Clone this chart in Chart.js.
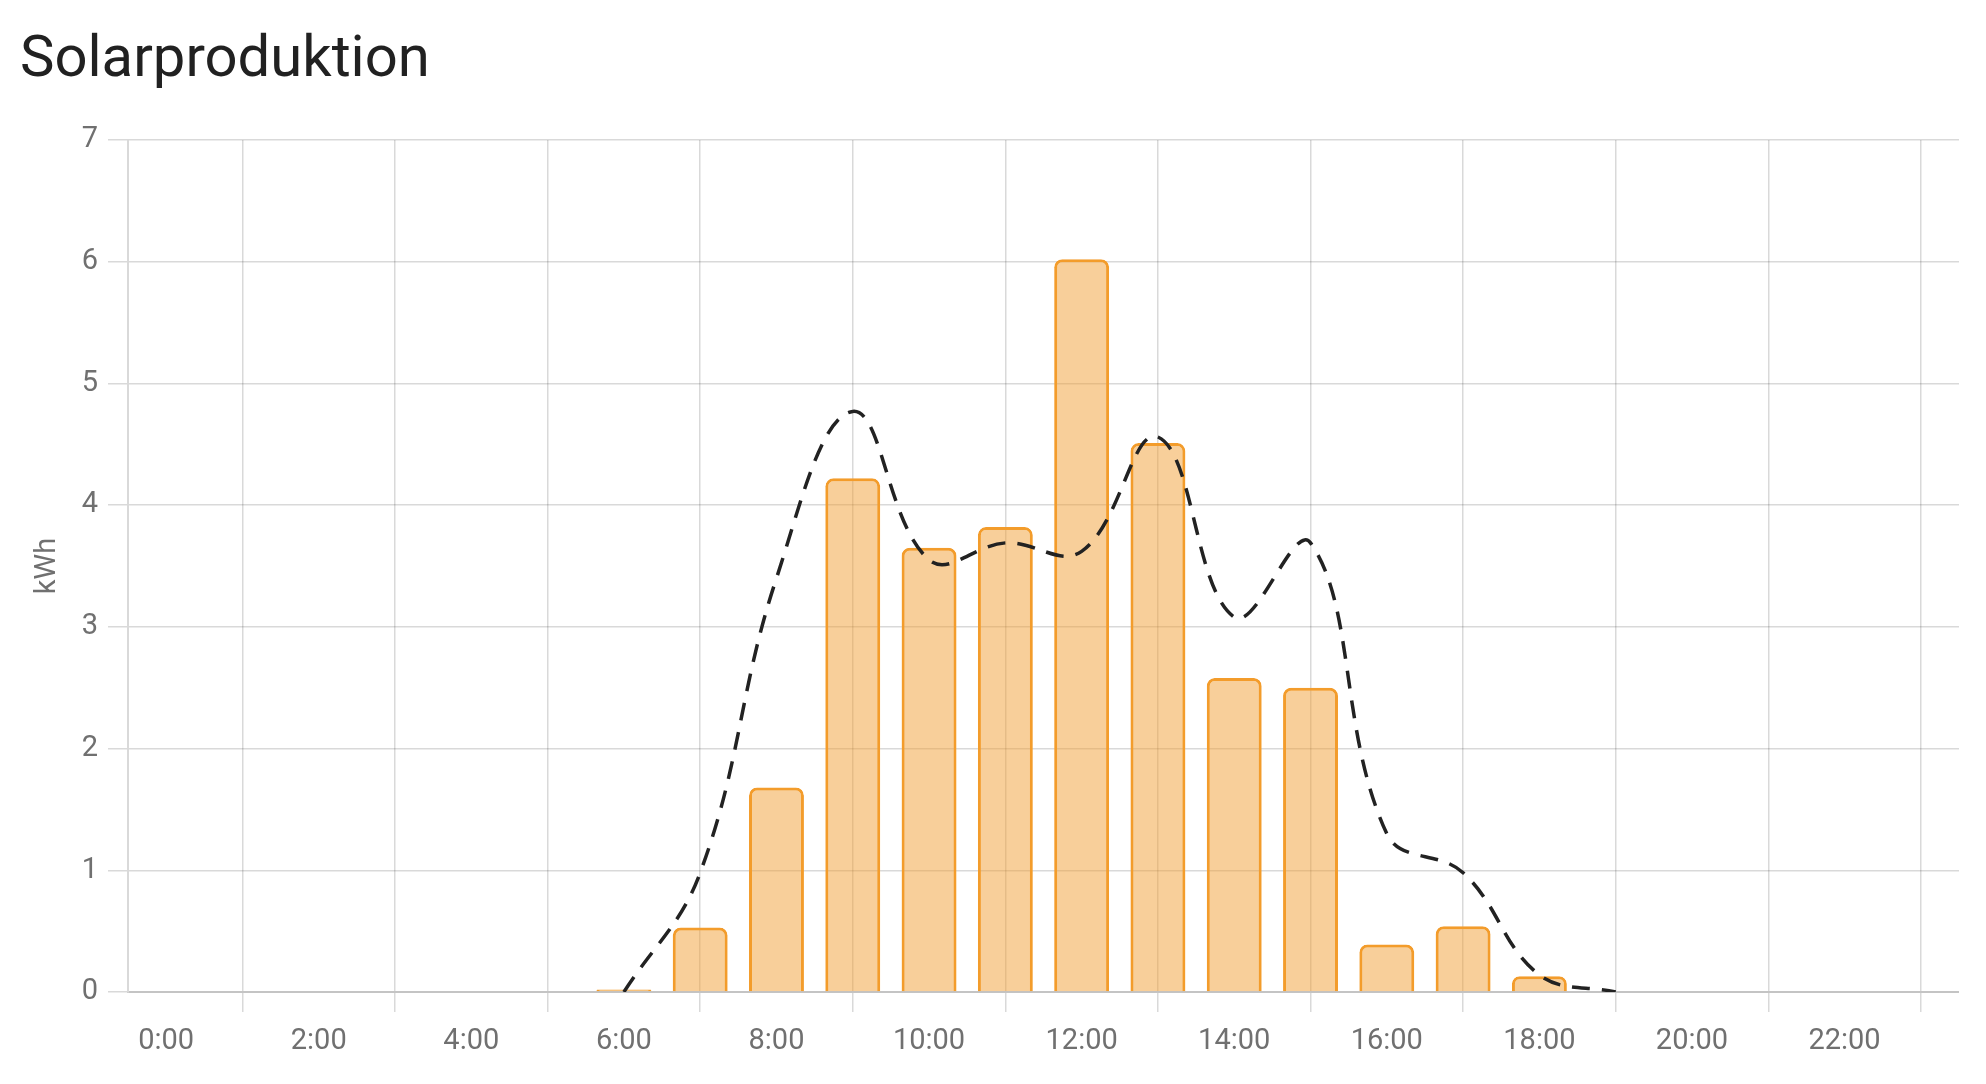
<!DOCTYPE html>
<html>
<head>
<meta charset="utf-8">
<script src="https://cdn.jsdelivr.net/npm/chart.js@4/dist/chart.umd.min.js"></script>
<style>
  html, body { margin: 0; padding: 0; background: #ffffff; }
  body { width: 1986px; height: 1084px; position: relative; overflow: hidden; font-family: Roboto, "Noto Sans", sans-serif; }
  #title { position: absolute; left: 20px; top: 27px; font-size: 58px; line-height: 58px; color: #212121; font-weight: 400; white-space: nowrap; }
  #wrap { position: absolute; left: 0; top: 100px; width: 1959px; height: 984px; }
</style>
</head>
<body>
<div id="title">Solarproduktion</div>
<div id="wrap"><canvas id="c"></canvas></div>
<script>
// ---- data ----
const hours = ["0:00","1:00","2:00","3:00","4:00","5:00","6:00","7:00","8:00","9:00","10:00","11:00",
               "12:00","13:00","14:00","15:00","16:00","17:00","18:00","19:00","20:00","21:00","22:00","23:00"];
const production = [null,null,null,null,null,null,0.02,0.53,1.68,4.22,3.65,3.82,
                    6.02,4.51,2.58,2.50,0.39,0.54,0.13,null,null,null,null,null];
const forecast = [null,null,null,null,null,null,0,0.98,3.4,4.77,3.55,3.69,
                  3.62,4.56,3.08,3.69,1.3,0.98,0.14,0,null,null,null,null];
const yTicks = [0,1,2,3,4,5,6,7];
const yTitle = "kWh";

const gridColor = "rgba(0,0,0,0.15)";
const tickColor = "#707070";
const font = { family: "Roboto", size: 29 };

new Chart(document.getElementById("c"), {
  data: {
    labels: hours,
    datasets: [
      {
        type: "line",
        data: forecast,
        borderColor: "#222222",
        borderWidth: 3.5,
        borderDash: [18, 12],
        pointRadius: 0,
        tension: 0.4,
        fill: false,
        order: 0
      },
      {
        type: "bar",
        data: production,
        backgroundColor: "rgba(242,160,53,0.5)",
        borderColor: "#f39c2b",
        borderWidth: 3,
        borderRadius: 8,
        borderSkipped: "start",
        order: 1
      }
    ]
  },
  options: {
    responsive: true,
    maintainAspectRatio: false,
    animation: false,
    events: [],
    layout: { padding: { top: 40, right: 0, bottom: 0, left: 0 } },
    plugins: { legend: { display: false }, tooltip: { enabled: false }, title: { display: false } },
    scales: {
      x: {
        type: "category",
        offset: true,
        grid: {
          offset: false,
          tickLength: 20,
          lineWidth: 1.5,
          color: ctx => (ctx.index % 2 === 1 ? gridColor : "rgba(0,0,0,0)")
        },
        border: { display: true, color: "#c4c4c4", width: 2 },
        ticks: {
          autoSkip: false,
          maxRotation: 0,
          minRotation: 0,
          padding: 12,
          color: tickColor,
          font: font,
          callback: (v, i) => (i % 2 === 0 ? hours[i] : "")
        },
        afterFit: s => { s.height = 92; }
      },
      y: {
        min: yTicks[0],
        max: yTicks[yTicks.length - 1],
        afterBuildTicks: s => { s.ticks = yTicks.map(v => ({ value: v })); },
        grid: { tickLength: 20, lineWidth: 1.5, color: gridColor },
        border: { display: true, color: "#d9d9d9", width: 2 },
        ticks: { padding: 10, color: tickColor, font: font },
        title: { display: true, text: yTitle, color: tickColor, font: font, padding: { top: 30, bottom: 0 } },
        afterFit: s => { s.width = 128; }
      }
    }
  }
});
</script>
</body>
</html>
